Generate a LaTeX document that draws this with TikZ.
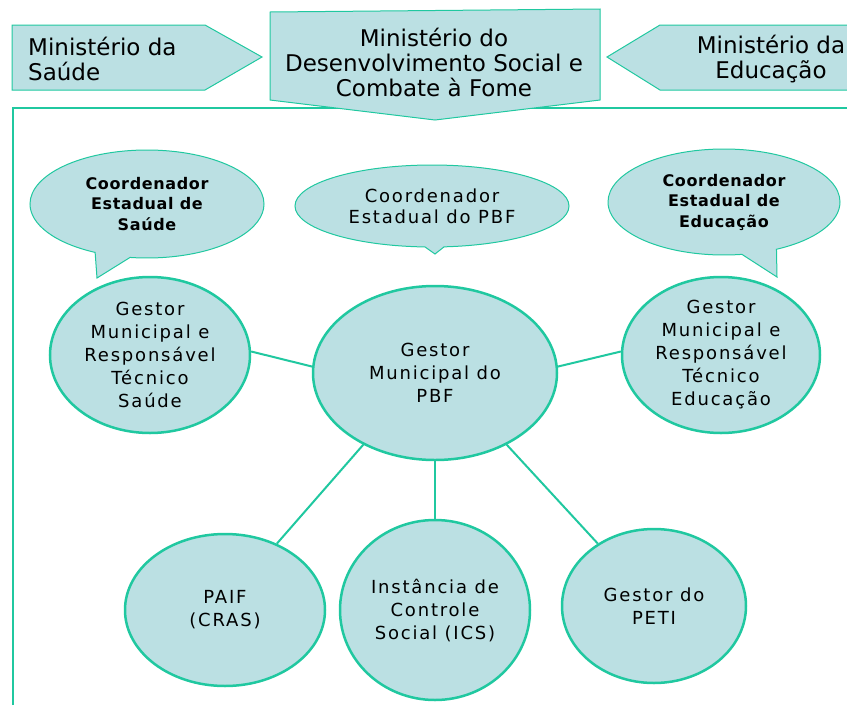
\documentclass[tikz,border=0pt]{standalone}
\usepackage{fontspec}
\setmainfont{DejaVu Sans}
\newfontfamily\spacedfont[LetterSpace=10]{DejaVu Sans}
\newfontfamily\callfont[LetterSpace=4]{DejaVu Sans Bold}
\usetikzlibrary{shapes.geometric,shapes.callouts}
\definecolor{boxfill}{RGB}{187,224,227}
\definecolor{boxline}{RGB}{32,200,160}

\begin{document}
\begin{tikzpicture}[x=1pt,y=-1pt,
        topbox/.style={fill=boxfill,draw=boxline,line width=1pt},
        toptext/.style={font=\fontsize{23}{25}\selectfont,inner sep=0pt},
        gestor/.style={ellipse,fill=boxfill,draw=boxline,line width=2.5pt,inner sep=0pt,align=center,font=\spacedfont\fontsize{18}{23}\selectfont},
        coord/.style={ellipse callout,fill=boxfill,draw=boxline,line width=1pt,inner sep=0pt,align=center},
        link/.style={boxline,line width=2pt}]
        \useasboundingbox (0,0) rectangle (847,705);
        % moldura
        \draw[boxline, line width=2pt] (13,705) -- (13,108) -- (847,108);
        % ministerios
        \draw[topbox] (12,25) -- (205,25) -- (262,57) -- (205,90) -- (12,90) -- cycle;
        \node[toptext, anchor=west, align=left] (msaude) at (28,59) {Ministério da\\Saúde};
        \fill[boxfill] (849,25) -- (660,25) -- (607,57) -- (660,90) -- (849,90) -- cycle;
        \draw[topbox, fill=none] (849,25) -- (660,25) -- (607,57) -- (660,90) -- (849,90);
        \node[toptext, align=center] (meduc) at (771,59) {Ministério da\\Educação};
        \draw[topbox] (270,12) -- (600,9) -- (600,100) -- (435,120) -- (270,100) -- cycle;
        \node[toptext, align=center] (mds) at (434,62) {Ministério do\\Desenvolvimento Social e\\Combate à Fome};
        % coordenadores
        \node[coord, minimum width=234pt, minimum height=108pt, callout pointer arc=18,
              callout absolute pointer={(97,278)},
              font=\callfont\fontsize{16}{20.5}\selectfont] (csaude) at (147,204) {Coordenador\\Estadual de\\Saúde};
        \node[coord, minimum width=274pt, minimum height=82pt, callout pointer arc=8,
              callout absolute pointer={(435,254)},
              font=\spacedfont\fontsize{18}{21}\selectfont] (cpbf) at (432,206) {Coordenador\\Estadual do PBF};
        \node[coord, minimum width=232pt, minimum height=106pt, callout pointer arc=18,
              callout absolute pointer={(777,277)},
              font=\callfont\fontsize{16}{20.5}\selectfont] (ceduc) at (724,202) {Coordenador\\Estadual de\\Educação};
        % gestores
        \node[gestor, minimum width=200pt, minimum height=156pt] (gsaude) at (150,355) {Gestor\\Municipal e\\Responsável\\Técnico\\Saúde};
        \node[gestor, minimum width=244pt, minimum height=174pt] (gpbf) at (435,373) {Gestor\\Municipal do\\PBF};
        \node[gestor, minimum width=198pt, minimum height=156pt] (geduc) at (721,355) {Gestor\\Municipal e\\Responsável\\Técnico\\Educação};
        \node[gestor, minimum width=200pt, minimum height=152pt] (paif) at (225,610) {PAIF\\(CRAS)};
        \node[gestor, minimum width=190pt, minimum height=180pt] (ics) at (435,610) {Instância de\\Controle\\Social (ICS)};
        \node[gestor, minimum width=184pt, minimum height=154pt] (peti) at (654,606) {Gestor do\\PETI};
        % ligacoes
        \draw[link] (gsaude.2) -- (gpbf.177);
        \draw[link] (gpbf.3) -- (geduc.178);
        \draw[link] (gpbf.225) -- (paif.52);
        \draw[link] (gpbf.south) -- (ics.north);
        \draw[link] (gpbf.315) -- (peti.132);
    \end{tikzpicture}
\end{document}
